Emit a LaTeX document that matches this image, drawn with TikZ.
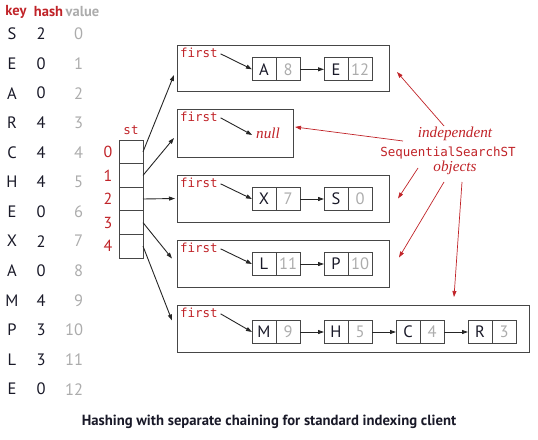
\documentclass[tikz,border=0pt]{standalone}
\usepackage{fontspec}
\setmainfont{PT Sans}
\newfontfamily\monof{DejaVu Sans Mono}
\newfontfamily\serf{Liberation Serif}
\usetikzlibrary{arrows.meta,calc}
\definecolor{bookred}{RGB}{192,35,40}
\definecolor{valgray}{RGB}{172,172,172}
\definecolor{keyblk}{RGB}{25,25,40}
\definecolor{boxgray}{RGB}{70,70,70}
\begin{document}
\begin{tikzpicture}[x=1pt,y=-1pt,
  every node/.style={inner sep=0pt, outer sep=0pt},
  hdr/.style={font=\bfseries\fontsize{14.5}{14.5}\selectfont},
  tblk/.style={font=\fontsize{16.5}{16.5}\selectfont, text=keyblk},
  tblv/.style={font=\fontsize{16.5}{16.5}\selectfont, text=valgray},
  keycell/.style={draw=boxgray, line width=0.8pt, minimum width=24pt, minimum height=23pt, font=\fontsize{16.5}{16.5}\selectfont, text=keyblk},
  valcell/.style={keycell, text=valgray},
  chainbox/.style={draw=boxgray, line width=0.8pt},
  stcell/.style={draw=boxgray, line width=0.8pt, minimum width=24pt, minimum height=23.6pt},
  firstlbl/.style={font=\monof\fontsize{12.5}{12.5}\selectfont, text=bookred},
  idx/.style={font=\fontsize{16}{16}\selectfont, text=bookred},
  annit/.style={font=\serf\itshape\fontsize{15.2}{15.2}\selectfont, text=bookred},
  annmono/.style={font=\monof\fontsize{12.5}{12.5}\selectfont, text=bookred},
  link/.style={draw=black!85, line width=0.9pt, -{Triangle[length=6pt,width=4pt]}},
  redlink/.style={draw=bookred, line width=0.7pt, -{Triangle[length=6pt,width=4pt]}}
]
\useasboundingbox (0,0) rectangle (538,439);

% table header
\node[hdr, text=bookred] (hk) at (16,12) {key};
\node[hdr, text=bookred] (hh) at (48.5,12) {hash};
\node[hdr, text=valgray] (hv) at (82.5,12) {value};
\foreach \k/\h [count=\i from 0] in {S/2,E/0,A/0,R/4,C/4,H/4,E/0,X/2,A/0,M/4,P/3,L/3,E/0} {
  \node[tblk] (k\i) at (12, 34+29.6*\i) {\k};
  \node[tblk] (h\i) at (41, 34+29.6*\i) {\h};
  \node[tblv, anchor=east] (v\i) at (83, 34+29.6*\i) {\i};
}

% st array
\node[font=\monof\fontsize{12.5}{12.5}\selectfont, text=bookred] (stl) at (131,130) {st};
\foreach \i in {0,...,4} {
  \node[stcell] (s\i) at (131, 151.8+23.6*\i) {};
  \node[idx] (i\i) at (108, 151.8+23.6*\i) {\i};
}

% chain boxes
\node[chainbox, minimum width=212pt, minimum height=46pt] (b0) at (283,68) {};
\node[chainbox, minimum width=116pt, minimum height=48pt] (b1) at (235,133) {};
\node[chainbox, minimum width=212pt, minimum height=47pt] (b2) at (283,198.5) {};
\node[chainbox, minimum width=212pt, minimum height=47pt] (b3) at (283,263.5) {};
\node[chainbox, minimum width=352pt, minimum height=47pt] (b4) at (353,328.5) {};

\foreach \b in {0,...,4} {
  \node[firstlbl, anchor=base west] (f\b) at ($(b\b.north west)+(3,12.5)$) {first};
}

% list nodes
\newcommand\lnode[4]{%
  \node[keycell] (#1k) at (#2) {#3};
  \node[valcell, anchor=west] (#1v) at (#1k.east) {#4};
}
\lnode{a}{264,69.3}{A}{8}
\lnode{e}{336,69.3}{E}{12}
\lnode{x}{264,199}{X}{7}
\lnode{s}{336,199}{S}{0}
\lnode{l}{264,264}{L}{11}
\lnode{p}{336,264}{P}{10}
\lnode{m}{264,332}{M}{9}
\lnode{h}{336,332}{H}{5}
\lnode{c}{408,332}{C}{4}
\lnode{r}{480,332}{R}{3}

\node[annit] (nul) at (268,133) {null};

% first links
\draw[link] ($(f0.east)+(3,1)$) -- (ak.west);
\draw[link] ($(f1.east)+(3,1)$) -- ($(nul.west)+(-4,2)$);
\draw[link] ($(f2.east)+(3,1)$) -- (xk.west);
\draw[link] ($(f3.east)+(3,1)$) -- (lk.west);
\draw[link] ($(f4.east)+(3,1)$) -- (mk.west);

% node links
\draw[link] (av.east) -- (ek.west);
\draw[link] (xv.east) -- (sk.west);
\draw[link] (lv.east) -- (pk.west);
\draw[link] (mv.east) -- (hk.west);
\draw[link] (hv.east) -- (ck.west);
\draw[link] (cv.east) -- (rk.west);

% st links
\draw[link] (s0.east) -- ($(b0.west)+(-3,7)$);
\draw[link] (s1.east) -- ($(b1.west)+(-3,5)$);
\draw[link] (s2.east) -- ($(b2.west)+(-2,0)$);
\draw[link] (s3.east) -- ($(b3.west)+(-5,-5)$);
\draw[link] (s4.east) -- ($(b4.west)+(-5,-8)$);

% annotation
\node[annit] (ind) at (455,134) {independent};
\node[annmono] (sss) at (448,153) {SequentialSearchST};
\node[annit] (obj) at (455,168) {objects};
\coordinate (r1) at (444,126);
\coordinate (r2) at (403,141);
\coordinate (r3) at (418,168);
\coordinate (r4) at (444,182);
\coordinate (r5) at (462,182);
\draw[redlink] (r1) -- ($(b0.east)+(8,4)$);
\draw[redlink] (r2) -- ($(b1.east)+(2,-6)$);
\draw[redlink] (r3) -- ($(b2.east)+(9,0)$);
\draw[redlink] (r4) -- ($(b3.east)+(10,-6)$);
\draw[redlink] (r5) -- ($(b4.north east)+(-75,-8)$);

% caption
\node[font=\bfseries\fontsize{14.7}{14.7}\selectfont, text=keyblk] (cap) at (269,422) {Hashing with separate chaining for standard indexing client};
\end{tikzpicture}
\end{document}
